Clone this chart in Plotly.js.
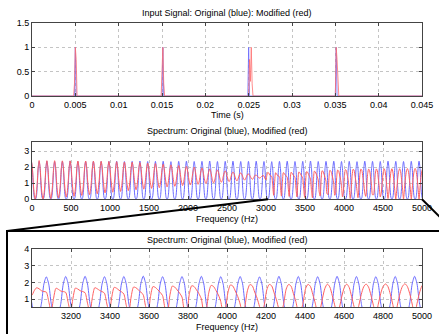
<!DOCTYPE html>
<html><head><meta charset="utf-8">
<script src="https://cdn.plot.ly/plotly-3.0.1.min.js"></script>
<style>html,body{margin:0;padding:0;background:#fff}#chart{width:439px;height:334px}</style>
</head><body><div id="chart"></div>
<script>
// ---- Input signal (time domain) ----
const timeOrig = [0, 0.0049, 0.0050, 0.0051, 0.0150, 0.0151, 0.0152, 0.0249, 0.0250, 0.0251, 0.0350, 0.0351, 0.0352, 0.045];
const sigOrig  = [0, 0, 1, 0, 0, 1, 0, 0, 1, 0, 0, 1, 0, 0];
const timeMod  = [0, 0.0048, 0.0049, 0.0050, 0.0051, 0.0052, 0.0149, 0.0150, 0.0151, 0.0152, 0.0153, 0.0250, 0.0251, 0.0252, 0.0253, 0.0254, 0.0255, 0.0350, 0.0351, 0.0352, 0.0353, 0.0354, 0.045];
const sigMod   = [0, 0, 0.25, 1, 0.75, 0, 0, 0.75, 1, 0.25, 0, 0, 0.75, 0.3, 1, 0.25, 0, 0, 1, 0.75, 0.25, 0, 0];

// ---- Spectrum (uniform frequency grid, Hz) ----
const freqStart = -8;
const freqStep = 12.425;
const specOrig = [
2.36,1.92,0.76,0.12,0,0.11,0.74,1.90,
2.35,1.91,0.75,0.12,0,0.12,0.75,1.91,
2.37,1.92,0.76,0.13,0,0.12,0.74,1.90,
2.34,1.90,0.75,0.12,0,0.12,0.76,1.92,
2.36,1.91,0.74,0.11,0,0.12,0.75,1.91,
2.38,1.93,0.76,0.12,0,0.11,0.74,1.90,
2.35,1.91,0.75,0.12,0,0.12,0.75,1.92,
2.36,1.92,0.76,0.12,0,0.12,0.76,1.91,
2.37,1.91,0.75,0.11,0,0.12,0.75,1.90,
2.35,1.90,0.74,0.12,0,0.13,0.76,1.92,
2.36,1.92,0.76,0.12,0,0.12,0.75,1.91,
2.37,1.92,0.75,0.12,0,0.11,0.74,1.91,
2.35,1.91,0.76,0.13,0,0.12,0.75,1.90,
2.36,1.90,0.74,0.12,0,0.12,0.76,1.92,
2.38,1.93,0.76,0.11,0,0.12,0.75,1.91,
2.35,1.91,0.75,0.12,0,0.12,0.74,1.90,
2.36,1.92,0.75,0.12,0,0.11,0.75,1.92,
2.37,1.91,0.76,0.12,0,0.12,0.76,1.91,
2.34,1.90,0.74,0.11,0,0.12,0.75,1.90,
2.36,1.92,0.76,0.12,0,0.13,0.76,1.92,
2.37,1.92,0.75,0.12,0,0.12,0.75,1.91,
2.35,1.91,0.75,0.12,0,0.11,0.74,1.90,
2.36,1.91,0.76,0.13,0,0.12,0.75,1.92,
2.38,1.93,0.75,0.12,0,0.12,0.76,1.91,
2.35,1.90,0.74,0.11,0,0.12,0.75,1.90,
2.36,1.92,0.76,0.12,0,0.12,0.75,1.91,
2.37,1.91,0.75,0.12,0,0.11,0.76,1.92,
2.35,1.92,0.76,0.12,0,0.12,0.74,1.90,
2.36,1.90,0.74,0.12,0,0.13,0.75,1.91,
2.37,1.92,0.75,0.11,0,0.12,0.76,1.92,
2.35,1.91,0.76,0.12,0,0.12,0.75,1.90,
2.34,1.90,0.75,0.12,0,0.11,0.74,1.91,
2.36,1.92,0.76,0.13,0,0.12,0.75,1.92,
2.37,1.91,0.74,0.12,0,0.12,0.76,1.90,
2.35,1.92,0.75,0.12,0,0.12,0.75,1.91,
2.36,1.90,0.76,0.11,0,0.13,0.74,1.92,
2.38,1.93,0.75,0.12,0,0.12,0.75,1.90,
2.35,1.91,0.76,0.12,0,0.11,0.76,1.91,
2.36,1.92,0.74,0.12,0,0.12,0.75,1.92,
2.37,1.91,0.75,0.13,0,0.12,0.74,1.90,
2.35,1.90,0.76,0.12,0,0.12,0.75,1.91,
2.36,1.92,0.75,0.11,0,0.12,0.76,1.92,
2.34,1.91,0.74,0.12,0,0.11,0.75,1.90,
2.37,1.92,0.76,0.12,0,0.12,0.74,1.91,
2.36,1.91,0.75,0.12,0,0.13,0.75,1.92,
2.35,1.90,0.76,0.13,0,0.12,0.76,1.90,
2.37,1.93,0.75,0.12,0,0.12,0.75,1.91,
2.36,1.91,0.74,0.11,0,0.11,0.74,1.92,
2.35,1.92,0.76,0.12,0,0.12,0.75,1.90,
2.36,1.91,0.75,0.12,0,0.12,0.76,1.91,
2.37,1.92,0.76,0.12,0,0.12,0.75,1.91
];
const specMod = [
2.40,1.98,1.00,0.30,0.00,0.28,0.98,1.96,
2.41,1.99,1.02,0.32,0.02,0.30,1.00,1.98,
2.40,2.00,1.05,0.36,0.05,0.33,1.03,1.99,
2.40,2.01,1.08,0.40,0.09,0.37,1.06,2.00,
2.39,2.01,1.11,0.45,0.14,0.42,1.09,2.00,
2.39,2.02,1.14,0.50,0.19,0.46,1.12,2.01,
2.38,2.02,1.17,0.55,0.24,0.51,1.15,2.01,
2.38,2.02,1.20,0.60,0.29,0.56,1.18,2.01,
2.37,2.02,1.23,0.65,0.34,0.61,1.21,2.01,
2.36,2.02,1.26,0.70,0.39,0.65,1.24,2.00,
2.35,2.01,1.29,0.74,0.44,0.70,1.27,2.00,
2.34,2.01,1.31,0.79,0.49,0.74,1.29,1.99,
2.32,2.00,1.34,0.83,0.54,0.78,1.32,1.98,
2.30,1.99,1.36,0.87,0.59,0.82,1.34,1.97,
2.28,1.98,1.38,0.90,0.63,0.86,1.36,1.95,
2.25,1.96,1.40,0.94,0.68,0.90,1.38,1.93,
2.22,1.94,1.41,0.97,0.72,0.93,1.39,1.91,
2.18,1.92,1.42,1.00,0.77,0.96,1.40,1.88,
2.14,1.90,1.43,1.03,0.81,0.99,1.41,1.85,
2.10,1.87,1.44,1.06,0.85,1.02,1.42,1.82,
2.05,1.84,1.44,1.08,0.89,1.05,1.42,1.79,
2.00,1.81,1.44,1.11,0.93,1.08,1.43,1.76,
1.95,1.78,1.44,1.14,0.98,1.11,1.43,1.72,
1.89,1.74,1.44,1.16,1.02,1.14,1.43,1.68,
1.83,1.70,1.44,1.19,1.06,1.17,1.43,1.65,
1.77,1.66,1.43,1.22,1.10,1.20,1.42,1.61,
1.70,1.62,1.43,1.24,1.14,1.23,1.42,1.57,
1.64,1.57,1.42,1.27,1.19,1.27,1.42,1.54,
1.57,1.52,1.41,1.30,1.24,1.30,1.42,1.50,
1.50,1.45,1.38,1.32,1.33,1.38,1.45,1.48,
1.45,1.30,1.22,1.50,1.68,1.62,1.50,1.45,
1.42,0.85,0.25,1.05,1.65,1.58,1.48,1.45,
1.40,0.80,0.20,1.05,1.66,1.60,1.50,1.45,
1.38,0.75,0.18,1.08,1.68,1.62,1.52,1.45,
1.35,0.70,0.15,1.10,1.70,1.65,1.53,1.44,
1.30,0.62,0.12,1.12,1.72,1.68,1.55,1.42,
1.25,0.55,0.10,1.15,1.75,1.70,1.56,1.40,
1.20,0.45,0.20,1.22,1.78,1.72,1.55,1.36,
1.12,0.35,0.30,1.28,1.80,1.75,1.55,1.32,
1.00,0.25,0.40,1.35,1.82,1.76,1.52,1.25,
0.85,0.15,0.50,1.42,1.85,1.78,1.48,1.15,
0.70,0.05,0.60,1.50,1.87,1.80,1.42,1.05,
0.55,0.10,0.68,1.55,1.88,1.80,1.38,0.95,
0.40,0.18,0.74,1.60,1.88,1.78,1.32,0.85,
0.28,0.28,0.80,1.62,1.89,1.76,1.27,0.75,
0.15,0.38,1.05,1.65,1.90,1.73,1.22,0.65,
0.05,0.50,1.18,1.70,1.90,1.70,1.15,0.55,
0.02,0.62,1.28,1.74,1.90,1.72,1.22,0.62,
0.02,0.68,1.32,1.76,1.91,1.75,1.28,0.68,
0.02,0.70,1.35,1.77,1.92,1.76,1.32,0.70,
0.02,0.72,1.36,1.78,1.93,1.77,1.34,0.72
];

// ---- Tick labels ----
const timeTicks = [0,0.005,0.01,0.015,0.02,0.025,0.03,0.035,0.04,0.045];
const timeTickText = ['0','0.005','0.01','0.015','0.02','0.025','0.03','0.035','0.04','0.045'];
const ampTicks = [0,0.5,1,1.5];
const ampTickText = ['0','0.5','1','1.5'];
const freqTicks = [0,500,1000,1500,2000,2500,3000,3500,4000,4500,5000];
const freqTickText = ['0','500','1000','1500','2000','2500','3000','3500','4000','4500','5000'];
const magTicks = [0,1,2,3];
const zoomFreqTicks = [3200,3400,3600,3800,4000,4200,4400,4600,4800,5000];
const zoomFreqTickText = ['3200','3400','3600','3800','4000','4200','4400','4600','4800','5000'];
const zoomMagTicks = [1,2,3,4];

const freq = specOrig.map((_, i) => freqStart + i * freqStep);

const BLUE = 'rgb(105,105,255)';
const RED = 'rgb(255,95,95)';
const FONT = 'Liberation Sans, Arial, Helvetica, sans-serif';

const specLine = c => ({color: c, width: 1, shape: 'spline', smoothing: 0.7});
const traces = [
  {x: timeOrig, y: sigOrig, type: 'scatter', mode: 'lines', line: {color: BLUE, width: 0.8}, xaxis: 'x', yaxis: 'y'},
  {x: timeMod, y: sigMod, type: 'scatter', mode: 'lines', line: {color: 'rgb(255,110,110)', width: 0.8}, xaxis: 'x', yaxis: 'y'},
  {x: freq, y: specOrig, type: 'scatter', mode: 'lines', line: specLine(BLUE), xaxis: 'x2', yaxis: 'y2'},
  {x: freq, y: specMod, type: 'scatter', mode: 'lines', line: specLine(RED), xaxis: 'x2', yaxis: 'y2'},
  {x: freq, y: specOrig, type: 'scatter', mode: 'lines', line: specLine(BLUE), xaxis: 'x3', yaxis: 'y3'},
  {x: freq, y: specMod, type: 'scatter', mode: 'lines', line: specLine(RED), xaxis: 'x3', yaxis: 'y3'}
];

const axBase = {
  showline: true, mirror: 'ticks', linecolor: '#444', linewidth: 1,
  ticks: 'inside', ticklen: 3, tickcolor: '#444', tickwidth: 1,
  showgrid: true, gridcolor: '#c4c4c4', griddash: 'dot', gridwidth: 1,
  zeroline: false, tickmode: 'array', fixedrange: true,
  tickfont: {family: FONT, size: 9, color: '#000'}
};
const XD = [32/439, 422/439];

const layout = {
  width: 439, height: 334,
  margin: {l: 0, r: 0, t: 0, b: 0},
  paper_bgcolor: '#fff', plot_bgcolor: '#fff',
  showlegend: false,
  font: {family: FONT, size: 9, color: '#000'},
  xaxis: Object.assign({}, axBase, {domain: XD, anchor: 'y', range: [0, 0.045], tickvals: timeTicks, ticktext: timeTickText}),
  yaxis: Object.assign({}, axBase, {domain: [1-96/334, 1-23/334], anchor: 'x', range: [0, 1.5], tickvals: ampTicks, ticktext: ampTickText}),
  xaxis2: Object.assign({}, axBase, {domain: XD, anchor: 'y2', range: [0, 5000], tickvals: freqTicks, ticktext: freqTickText}),
  yaxis2: Object.assign({}, axBase, {domain: [1-199.3/334, 1-141.7/334], anchor: 'x2', range: [0, 3.58], tickvals: magTicks, ticktext: magTicks.map(String)}),
  xaxis3: Object.assign({}, axBase, {domain: XD, anchor: 'y3', range: [3000, 5000], tickvals: zoomFreqTicks, ticktext: zoomFreqTickText}),
  yaxis3: Object.assign({}, axBase, {domain: [1-307.3/334, 1-249.3/334], anchor: 'x3', range: [0.5, 4], tickvals: zoomMagTicks, ticktext: zoomMagTicks.map(String)}),
  annotations: [
    {text: 'Input Signal: Original (blue): Modified (red)', x: 227/439, y: 1-13/334},
    {text: 'Time (s)', x: 227/439, y: 1-115/334},
    {text: 'Spectrum: Original (blue), Modified (red)', x: 227/439, y: 1-131/334},
    {text: 'Frequency (Hz)', x: 227/439, y: 1-218.5/334},
    {text: 'Spectrum: Original (blue), Modified (red)', x: 227/439, y: 1-240/334},
    {text: 'Frequency (Hz)', x: 227/439, y: 1-327/334}
  ].map(a => Object.assign({xref: 'paper', yref: 'paper', xanchor: 'center', yanchor: 'middle', showarrow: false, font: {family: FONT, size: 9, color: '#000'}}, a)),
  shapes: [
    {type: 'rect', xref: 'paper', yref: 'paper', x0: 7/439, x1: 456/439, y0: -0.2, y1: 1-231/334, line: {color: '#000', width: 2}, layer: 'above'},
    {type: 'line', xref: 'paper', yref: 'paper', x0: 7/439, y0: 1-231/334, x1: 268/439, y1: 1-199.3/334, line: {color: '#000', width: 2}, layer: 'above'},
    {type: 'line', xref: 'paper', yref: 'paper', x0: 422/439, y0: 1-199.3/334, x1: 454/439, y1: 1-231/334, line: {color: '#000', width: 2}, layer: 'above'}
  ]
};

Plotly.newPlot('chart', traces, layout, {staticPlot: true, displayModeBar: false});
</script>
</body></html>
